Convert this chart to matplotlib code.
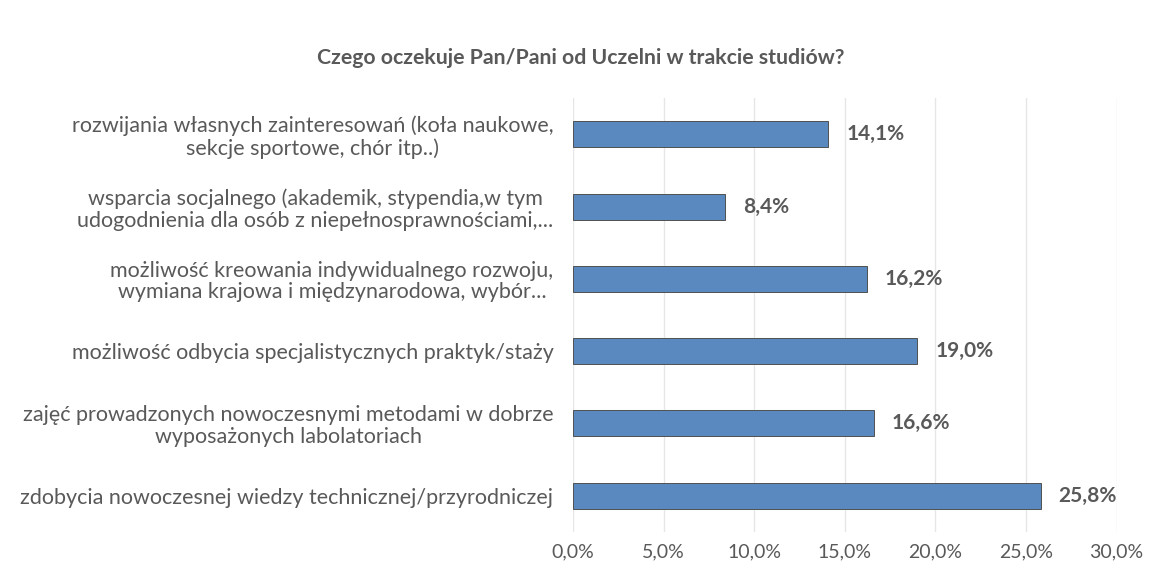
import matplotlib.pyplot as plt

categories = [
    "rozwijania własnych zainteresowań (koła naukowe,\nsekcje sportowe, chór itp..)",
    "wsparcia socjalnego (akademik, stypendia,w tym\nudogodnienia dla osób z niepełnosprawnościami,...",
    "możliwość kreowania indywidualnego rozwoju,\nwymiana krajowa i międzynarodowa, wybór...",
    "możliwość odbycia specjalistycznych praktyk/staży",
    "zajęć prowadzonych nowoczesnymi metodami w dobrze\nwyposażonych labolatoriach",
    "zdobycia nowoczesnej wiedzy technicznej/przyrodniczej",
]
values = [14.1, 8.4, 16.2, 19.0, 16.6, 25.8]
xticks = [0, 5, 10, 15, 20, 25, 30]

plt.rcParams['font.family'] = ['Lato', 'DejaVu Sans']
grey = '#595959'

fig = plt.figure(figsize=(11.62, 5.85), dpi=100)
ax = fig.add_axes([0.493, 0.091, 0.468, 0.741])

pos = list(range(len(values)))
ax.barh(pos, values, height=0.36, color='#5A89BF', edgecolor='#505050', linewidth=0.7, zorder=3)
for p, v in zip(pos, values):
    ax.text(v + 1.0, p, f"{v:.1f}%".replace('.', ','), va='center', ha='left',
            fontsize=15, fontweight='bold', color=grey)

ax.set_ylim(-0.5, len(values) - 0.5)
ax.invert_yaxis()
ax.set_xlim(0, 30)
ax.set_xticks(xticks)
ax.set_xticklabels([f"{t:.1f}%".replace('.', ',') for t in xticks], fontsize=14, color=grey)
ax.set_yticks(pos)
ax.set_yticklabels(categories, fontsize=15.5, color=grey, linespacing=1.1)
for lab in ax.get_yticklabels():
    lab.set_multialignment('center')
ax.tick_params(axis='y', length=0, pad=14)
ax.tick_params(axis='x', length=0, pad=8)
ax.grid(axis='x', color='#E6E6E6', linewidth=1, zorder=0)
for s in ax.spines.values():
    s.set_visible(False)

fig.text(0.5, 0.9, "Czego oczekuje Pan/Pani od Uczelni w trakcie studiów?", ha='center', va='center',
         fontsize=15.3, fontweight='bold', color=grey)

fig.savefig('out.png', dpi=100)
